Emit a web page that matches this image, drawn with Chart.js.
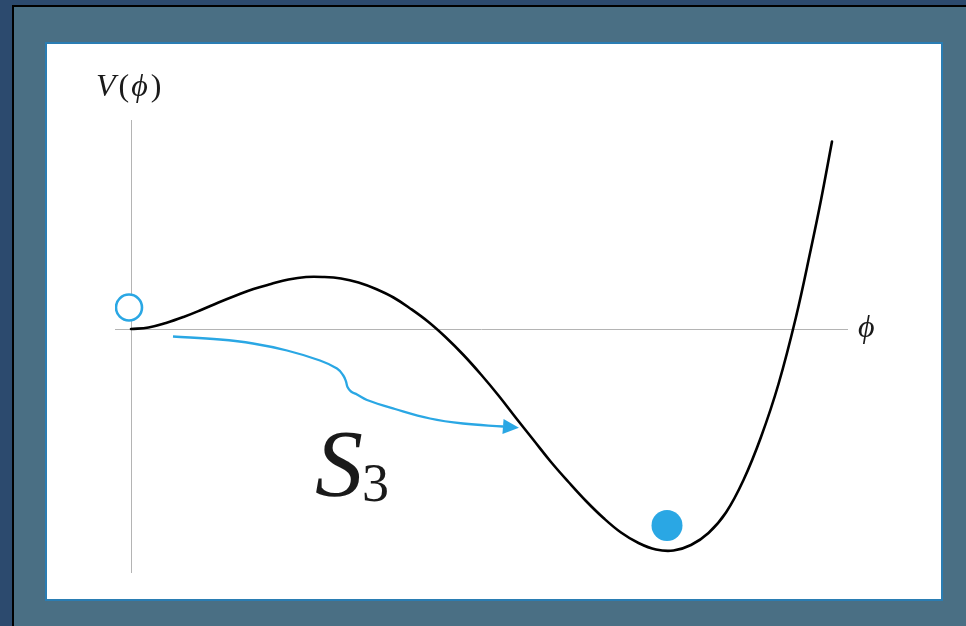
<!DOCTYPE html>
<html>
<head>
<meta charset="utf-8">
<script src="https://cdn.jsdelivr.net/npm/chart.js@4"></script>
<style>
  html, body { margin: 0; padding: 0; }
  body { width: 966px; height: 626px; background: #2c4a6e; position: relative; overflow: hidden; }
  #frame { position: absolute; left: 12px; top: 5px; right: 0; bottom: 0;
           border-left: 2px solid #000; border-top: 2px solid #000; background: #4a6f84; }
  #panel { position: absolute; left: 45px; top: 42px; width: 894px; height: 555px;
           border: 2px solid #2a7db3; background: #fff; }
  canvas { display: block; }
</style>
</head>
<body>
<div id="frame"></div>
<div id="panel"><canvas id="c" width="894" height="555"></canvas></div>
<script>
// Potential V(phi): false vacuum at phi = 0, barrier, true vacuum further out
const phi = [0, 0.175, 0.35, 0.525, 0.70, 0.875, 1.05, 1.225, 1.40, 1.575, 1.75, 1.925, 2.10, 2.275,
             2.45, 2.625, 2.80, 2.975, 3.15, 3.325, 3.50, 3.675, 3.85, 4.025, 4.20, 4.375, 4.55, 4.725,
             4.90, 5.075, 5.25, 5.425, 5.60, 5.775, 5.95, 6.125, 6.30, 6.475, 6.65, 6.80, 6.90, 7.01];
const potential = [0, 0.03, 0.12, 0.24, 0.38, 0.53, 0.67, 0.80, 0.90, 0.99, 1.04, 1.04, 1.01, 0.93,
                   0.80, 0.63, 0.40, 0.14, -0.17, -0.52, -0.91, -1.33, -1.78, -2.22, -2.66, -3.06, -3.44, -3.78,
                   -4.07, -4.28, -4.41, -4.43, -4.32, -4.08, -3.67, -3.02, -2.16, -1.10, 0.24, 1.61, 2.58, 3.75];

// Tunnelling path (bounce action S3), ends in an arrowhead
const pathPhi = [0.42, 0.89, 1.22, 1.56, 1.89, 2.06, 2.12, 2.15, 2.165, 2.20, 2.26, 2.36, 2.64, 2.99, 3.32, 3.72];
const pathV   = [-0.15, -0.21, -0.29, -0.43, -0.63, -0.79, -0.92, -1.05, -1.16, -1.25, -1.31, -1.42, -1.60, -1.79, -1.89, -1.95];

// Field states: metastable (open) and true vacuum (filled)
const falseVacuum = [-0.02, 0.43];
const trueVacuum  = [5.36, -3.93];

// Axis extents
const phiRange = [-0.16, 7.17];
const vRange   = [-4.88, 4.18];

// Anchor of the S3 annotation in (phi, V)
const s3Anchor = [1.84, -3.34];

const ACCENT = '#2aa7e4';
const SERIF = '"Liberation Serif", "DejaVu Serif", serif';

const toXY = (xs, ys) => xs.map((x, i) => ({ x: x, y: ys[i] }));

const axesPlugin = {
  id: 'axes',
  beforeDatasetsDraw(chart) {
    const { ctx, chartArea, scales } = chart;
    const x0 = Math.round(scales.x.getPixelForValue(0)) + 0.5;
    const y0 = Math.round(scales.y.getPixelForValue(0)) + 0.5;
    ctx.save();
    ctx.strokeStyle = '#b4b4b4';
    ctx.lineWidth = 1;
    ctx.beginPath();
    ctx.moveTo(x0, chartArea.top);
    ctx.lineTo(x0, chartArea.bottom);
    ctx.moveTo(chartArea.left, y0);
    ctx.lineTo(chartArea.right, y0);
    ctx.stroke();
    ctx.restore();
  }
};

const labelsPlugin = {
  id: 'labels',
  afterDatasetsDraw(chart) {
    const { ctx, chartArea, scales } = chart;
    const x0 = scales.x.getPixelForValue(0);
    const y0 = scales.y.getPixelForValue(0);
    ctx.save();
    ctx.fillStyle = '#1a1a1a';
    ctx.textBaseline = 'alphabetic';

    // V(phi) above the vertical axis
    let cx = x0 - 35;
    const by = chartArea.top - 24;
    const parts = [['V', 'italic'], ['(', 'normal'], ['\u03d5', 'italic'], [')', 'normal']];
    const gaps = [3, 2, 3, 0];
    parts.forEach(([t, st], i) => {
      ctx.font = st + ' 32px ' + SERIF;
      ctx.fillText(t, cx, by);
      cx += ctx.measureText(t).width + gaps[i];
    });

    // phi at the end of the horizontal axis
    ctx.font = 'italic 32px ' + SERIF;
    ctx.fillText('\u03d5', chartArea.right + 10, y0 + 8);

    // S3 annotation
    const sx = scales.x.getPixelForValue(s3Anchor[0]);
    const sy = scales.y.getPixelForValue(s3Anchor[1]);
    ctx.font = 'italic 96px ' + SERIF;
    ctx.fillText('S', sx, sy);
    const w = ctx.measureText('S').width;
    ctx.font = 'normal 54px ' + SERIF;
    ctx.fillText('3', sx + w - 1, sy + 5);

    // arrowhead at the end of the tunnelling path
    const meta = chart.getDatasetMeta(1).data;
    const p1 = meta[meta.length - 2], p2 = meta[meta.length - 1];
    const ang = Math.atan2(p2.y - p1.y, p2.x - p1.x);
    const len = 16, half = 7.5;
    ctx.translate(p2.x, p2.y);
    ctx.rotate(ang);
    ctx.fillStyle = ACCENT;
    ctx.beginPath();
    ctx.moveTo(len, 0);
    ctx.lineTo(0, -half);
    ctx.lineTo(0, half);
    ctx.closePath();
    ctx.fill();
    ctx.restore();
  }
};

new Chart(document.getElementById('c'), {
  type: 'line',
  data: {
    datasets: [
      {
        data: toXY(phi, potential),
        borderColor: '#000',
        borderWidth: 2.6,
        pointRadius: 0,
        tension: 0.4,
        borderCapStyle: 'round',
        borderJoinStyle: 'round',
        order: 3
      },
      {
        data: toXY(pathPhi, pathV),
        borderColor: ACCENT,
        borderWidth: 2.3,
        pointRadius: 0,
        tension: 0.4,
        borderJoinStyle: 'round',
        order: 2
      },
      {
        data: [{ x: falseVacuum[0], y: falseVacuum[1] }],
        showLine: false,
        pointRadius: 13,
        pointBorderWidth: 2.6,
        pointBorderColor: ACCENT,
        pointBackgroundColor: '#fff',
        order: 1
      },
      {
        data: [{ x: trueVacuum[0], y: trueVacuum[1] }],
        showLine: false,
        pointRadius: 15.5,
        pointBorderWidth: 0,
        pointBorderColor: ACCENT,
        pointBackgroundColor: ACCENT,
        order: 0
      }
    ]
  },
  options: {
    responsive: false,
    animation: false,
    events: [],
    layout: { padding: { left: 68, right: 93, top: 76, bottom: 26 } },
    plugins: { legend: { display: false }, tooltip: { enabled: false } },
    scales: {
      x: { type: 'linear', min: phiRange[0], max: phiRange[1], display: false },
      y: { type: 'linear', min: vRange[0], max: vRange[1], display: false }
    }
  },
  plugins: [axesPlugin, labelsPlugin]
});
</script>
</body>
</html>
